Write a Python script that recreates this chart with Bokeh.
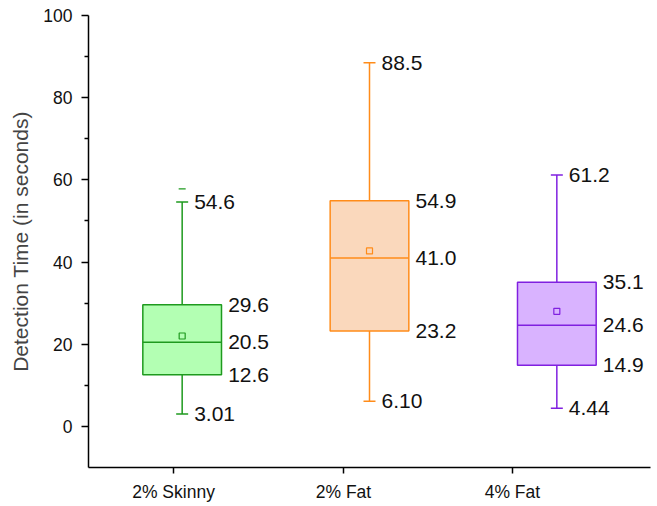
from bokeh.plotting import figure
from bokeh.models import ColumnDataSource, Range1d, FixedTicker
from bokeh.core.properties import value
from bokeh.embed import file_html
from bokeh.resources import INLINE

# ---- data ----
categories = ["2% Skinny", "2% Fat", "4% Fat"]
lower_whisker = [3.01, 6.10, 4.44]
q1 = [12.6, 23.2, 14.9]
median = [20.5, 41.0, 24.6]
q3 = [29.6, 54.9, 35.1]
upper_whisker = [54.6, 88.5, 61.2]
means = [22.0, 42.7, 28.0]
outlier_group = [0]
outlier_value = [57.8]

y_ticks = [0, 20, 40, 60, 80, 100]
y_minor = [10, 30, 50, 70, 90]

# ---- style ----
edge_colors = ["#1E9A1E", "#FF8C1A", "#8020E0"]
fill_colors = ["#B3FFB3", "#FAD8BC", "#D9B3FF"]
box_w = 0.42
cap_w = 0.064
cat_tick_pos = [0.954, 1.861, 2.763]   # category tick placement as in the original
FONT = "Liberation Sans"

xs = [i + 1 for i in range(len(categories))]

src = ColumnDataSource(dict(
    x=xs, left=[x - box_w / 2 for x in xs], right=[x + box_w / 2 for x in xs],
    cap_l=[x - cap_w / 2 for x in xs], cap_r=[x + cap_w / 2 for x in xs],
    lo=lower_whisker, q1=q1, med=median, q3=q3, hi=upper_whisker, mean=means,
    edge=edge_colors, fill=fill_colors,
))

p = figure(width=655, height=504, x_range=Range1d(0.5, 3.5), y_range=Range1d(-10, 100),
           output_backend="svg", toolbar_location=None,
           min_border_left=88, min_border_right=5, min_border_top=15, min_border_bottom=36)
p.outline_line_color = None
p.xgrid.grid_line_color = None
p.ygrid.grid_line_color = None
p.background_fill_color = "white"

# whiskers
p.segment(x0="x", y0="q3", x1="x", y1="hi", source=src, line_color="edge", line_width=1.5)
p.segment(x0="x", y0="lo", x1="x", y1="q1", source=src, line_color="edge", line_width=1.5)
# caps
p.segment(x0="cap_l", y0="hi", x1="cap_r", y1="hi", source=src, line_color="edge", line_width=1.5)
p.segment(x0="cap_l", y0="lo", x1="cap_r", y1="lo", source=src, line_color="edge", line_width=1.5)
# boxes
p.quad(left="left", right="right", bottom="q1", top="q3", source=src,
       fill_color="fill", line_color="edge", line_width=1.5)
# medians
p.segment(x0="left", y0="med", x1="right", y1="med", source=src, line_color="edge", line_width=1.5)
# means
p.scatter(x="x", y="mean", source=src, marker="square", size=6, fill_alpha=0,
          line_color="edge", line_width=1.2)
# outliers
p.scatter(x=[xs[i] for i in outlier_group], y=outlier_value, marker="dash", size=7,
          line_color=[edge_colors[i] for i in outlier_group], line_width=1.2)

# value labels
lx, ly, lt, lo_ = [], [], [], []
for i, x in enumerate(xs):
    for v, off in ((upper_whisker[i], 12), (lower_whisker[i], 12),
                   (q3[i], 46), (median[i], 46), (q1[i], 46)):
        lx.append(x); ly.append(v); lt.append(f"{v:#.3g}"); lo_.append(off)
lab = ColumnDataSource(dict(x=lx, y=ly, t=lt, off=lo_))
p.text(x="x", y="y", text="t", x_offset="off", source=lab, text_baseline="middle",
       text_align="left", text_font=value(FONT), text_font_size="21px", text_color="#111111")

# axes
for ax in (p.xaxis[0], p.yaxis[0]):
    ax.axis_line_width = 1.5
    ax.axis_line_color = "black"
    ax.major_tick_line_width = 1.5
    ax.minor_tick_line_width = 1.5
    ax.major_tick_in = 0
    ax.minor_tick_in = 0
    ax.major_label_text_font = FONT
    ax.major_label_text_font_size = "17.5px"
    ax.major_label_text_color = "#111111"

p.yaxis.ticker = FixedTicker(ticks=y_ticks, minor_ticks=y_minor)
p.yaxis.major_tick_out = 7
p.yaxis.minor_tick_out = 4
p.yaxis.major_label_standoff = 9
p.yaxis.axis_label = "Detection Time (in seconds)"
p.yaxis.axis_label_text_font = FONT
p.yaxis.axis_label_text_font_size = "21px"
p.yaxis.axis_label_text_font_style = "normal"
p.yaxis.axis_label_standoff = 8

p.xaxis.ticker = FixedTicker(ticks=cat_tick_pos, minor_ticks=[])
p.xaxis.major_label_overrides = {t: c for t, c in zip(cat_tick_pos, categories)}
p.xaxis.major_tick_out = 6
p.xaxis.minor_tick_out = 0
p.xaxis.major_label_standoff = 8

open("out.html", "w").write(file_html(p, INLINE))
